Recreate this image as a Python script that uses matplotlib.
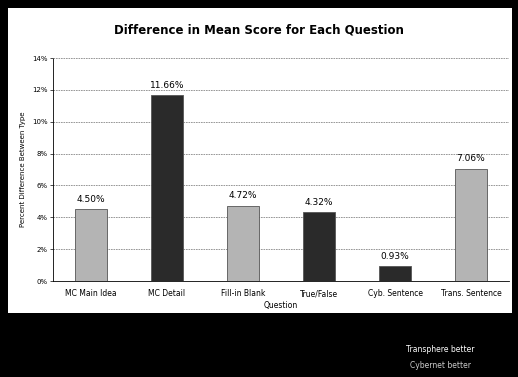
import matplotlib.pyplot as plt
from matplotlib.ticker import PercentFormatter

questions = ["MC Main Idea", "MC Detail", "Fill-in Blank", "True/False",
             "Cyb. Sentence", "Trans. Sentence"]
diffs = [4.50, 11.66, 4.72, 4.32, 0.93, 7.06]
better = ["Transphere", "Cybernet", "Transphere", "Cybernet", "Cybernet", "Transphere"]

colors = {"Transphere": "#b4b4b4", "Cybernet": "#2a2a2a"}


def main():
    W, H = 518, 377
    fig = plt.figure(figsize=(W / 100, H / 100), dpi=100)
    fig.patch.set_facecolor("black")

    # white chart panel on the black page
    bg = fig.add_axes([8 / W, 1 - 313 / H, 504 / W, 305 / H], zorder=0)
    bg.set_facecolor("white")
    bg.set_xticks([])
    bg.set_yticks([])
    for s in bg.spines.values():
        s.set_visible(False)

    ax = fig.add_axes([53 / W, 1 - 281 / H, 456 / W, 223 / H], zorder=1)
    ax.set_facecolor("white")

    x = range(len(questions))
    bars = ax.bar(x, diffs, width=0.43,
                  color=[colors[b] for b in better],
                  edgecolor="#555555", linewidth=0.6, zorder=3)
    for rect, v in zip(bars, diffs):
        ax.text(rect.get_x() + rect.get_width() / 2, v + 0.35, f"{v:.2f}%",
                ha="center", va="bottom", fontsize=6.5, zorder=4)

    ax.set_ylim(0, 14)
    ax.set_xlim(-0.5, len(questions) - 0.5)
    ax.set_yticks(range(0, 15, 2))
    ax.yaxis.set_major_formatter(PercentFormatter(decimals=0))
    ax.grid(axis="y", color="#888888", linestyle=(0, (2, 1)), linewidth=0.6, zorder=0)
    ax.set_xticks(list(x))
    ax.set_xticklabels(questions, fontsize=5.5)
    ax.tick_params(axis="y", labelsize=5, length=2, width=0.5, pad=2)
    ax.tick_params(axis="x", length=0, pad=6)
    for side in ["top", "right"]:
        ax.spines[side].set_visible(False)
    ax.spines["left"].set_linestyle((0, (1, 1)))
    ax.spines["left"].set_linewidth(0.6)
    ax.spines["bottom"].set_linewidth(0.6)
    ax.set_xlabel("Question", fontsize=5.5, labelpad=2)
    ax.set_ylabel("Percent Difference Between Type", fontsize=5, labelpad=4)

    fig.text(0.5, 1 - 30 / H, "Difference in Mean Score for Each Question",
             ha="center", va="center", fontsize=8.5, fontweight="bold")

    fig.text(440 / W, 1 - 350 / H, "Transphere better", color="white",
             ha="center", va="center", fontsize=5.5)
    fig.text(440 / W, 1 - 366 / H, "Cybernet better", color="#cccccc",
             ha="center", va="center", fontsize=5.5)

    fig.savefig("out.png", dpi=100, facecolor=fig.get_facecolor())


if __name__ == "__main__":
    main()
